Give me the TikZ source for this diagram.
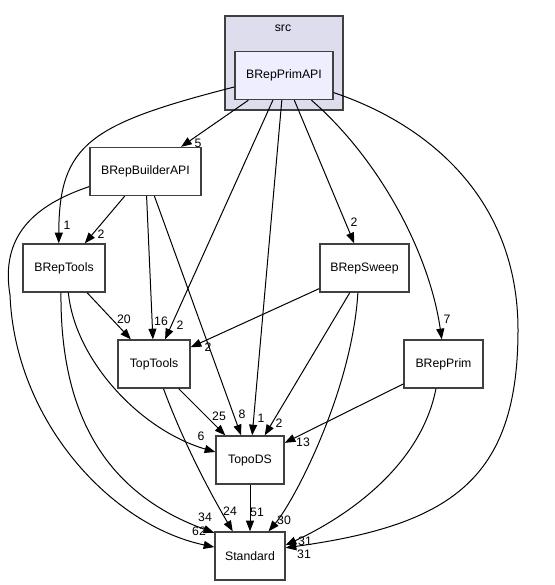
\documentclass[tikz,border=0pt]{standalone}
\usepackage{fontspec}
\setmainfont{Liberation Sans}
\usepackage{tikz}
\usetikzlibrary{arrows.meta}
\definecolor{srcfill}{RGB}{221,221,238}
\definecolor{dirfill}{RGB}{238,238,255}
\definecolor{dirline}{RGB}{64,64,64}

\begin{document}
\begin{tikzpicture}[x=0.75pt, y=-0.75pt,
    font=\fontsize{9.2}{11}\selectfont,
    srcbox/.style={draw=dirline, line width=1pt, fill=srcfill, inner sep=0pt},
    dirbox/.style={draw=dirline, line width=1pt, fill=white, minimum height=36pt, inner sep=0pt},
    deplink/.style={line width=0.75pt, -{Triangle[length=8pt,width=6pt]}},
    deplabel/.style={inner sep=0pt}]
        \useasboundingbox (0,0) rectangle (554,585);

        % Cluster
        \node[srcbox, minimum width=88.5pt, minimum height=70.5pt] (src) at (284,63) {};
        \node (srclabel) at (283,28) {src};

        % Directories
        \node[dirbox, fill=dirfill, minimum width=73.5pt] (prim) at (284,75.5) {BRepPrimAPI};
        \node[dirbox, minimum width=83.25pt] (builder) at (145.5,171.5) {BRepBuilderAPI};
        \node[dirbox, minimum width=61.5pt] (tools) at (64,268) {BRepTools};
        \node[dirbox, minimum width=66.75pt] (sweep) at (364.5,268) {BRepSweep};
        \node[dirbox, minimum width=54pt] (toptools) at (154,364) {TopTools};
        \node[dirbox, minimum width=59.25pt] (bprim) at (443.5,364) {BRepPrim};
        \node[dirbox, minimum width=51pt] (topods) at (250,460) {TopoDS};
        \node[dirbox, minimum width=52.5pt] (std) at (250,556) {Standard};

        % From BRepPrimAPI
        \draw[deplink] (prim) -- (builder) node[deplabel] at (198,143) {5};
        \draw[deplink] (prim.193) .. controls (90,124) and (59,144) .. (tools.102) node[deplabel] at (67,225) {1};
        \draw[deplink] (prim) -- (toptools) node[deplabel] at (180,325) {2};
        \draw[deplink] (prim) -- (topods) node[deplabel] at (261,418) {1};
        \draw[deplink] (prim) -- (sweep) node[deplabel] at (354,222) {2};
        \draw[deplink] (prim.-42) .. controls (378,158) and (429,251) .. (bprim.94) node[deplabel] at (447,319) {7};
        \draw[deplink] (prim.-19) .. controls (430,125) and (518,200) .. (518,330)
            .. controls (518,480) and (450,525) .. (std.13) node[deplabel] at (305,541) {31};

        % From BRepBuilderAPI
        \draw[deplink] (builder) -- (tools) node[deplabel] at (101,234) {2};
        \draw[deplink] (builder) -- (toptools) node[deplabel] at (161,321) {16};
        \draw[deplink] (builder) -- (topods) node[deplabel] at (242,414) {8};
        \draw[deplink] (builder.195) .. controls (35,205) and (0,235) .. (10,295)
            .. controls (15,420) and (110,525) .. (std.166) node[deplabel] at (199,531) {62};

        % From BRepTools
        \draw[deplink] (tools) -- (toptools) node[deplabel] at (124,319) {20};
        \draw[deplink] (tools.-80) .. controls (75,360) and (140,430) .. (topods.167) node[deplabel] at (201,436) {6};
        \draw[deplink] (tools.263) .. controls (60,420) and (110,495) .. (std.147) node[deplabel] at (205,517) {34};

        % From BRepSweep
        \draw[deplink] (sweep) -- (toptools) node[deplabel] at (208,347) {2};
        \draw[deplink] (sweep) -- (topods) node[deplabel] at (279,423) {2};
        \draw[deplink] (sweep.255) .. controls (352,390) and (295,500) .. (std.53) node[deplabel] at (284,520) {30};

        % From TopTools, BRepPrim and TopoDS
        \draw[deplink] (toptools) -- (topods) node[deplabel] at (219,416) {25};
        \draw[deplink] (toptools.-69) .. controls (181,436) and (205,484) .. (std.125) node[deplabel] at (230,511) {24};
        \draw[deplink] (bprim) -- (topods) node[deplabel] at (303,442) {13};
        \draw[deplink] (bprim.253) .. controls (420,470) and (340,520) .. (std.17) node[deplabel] at (304,554) {31};
        \draw[deplink] (topods) -- (std) node[deplabel] at (257,512) {51};
    \end{tikzpicture}
\end{document}
